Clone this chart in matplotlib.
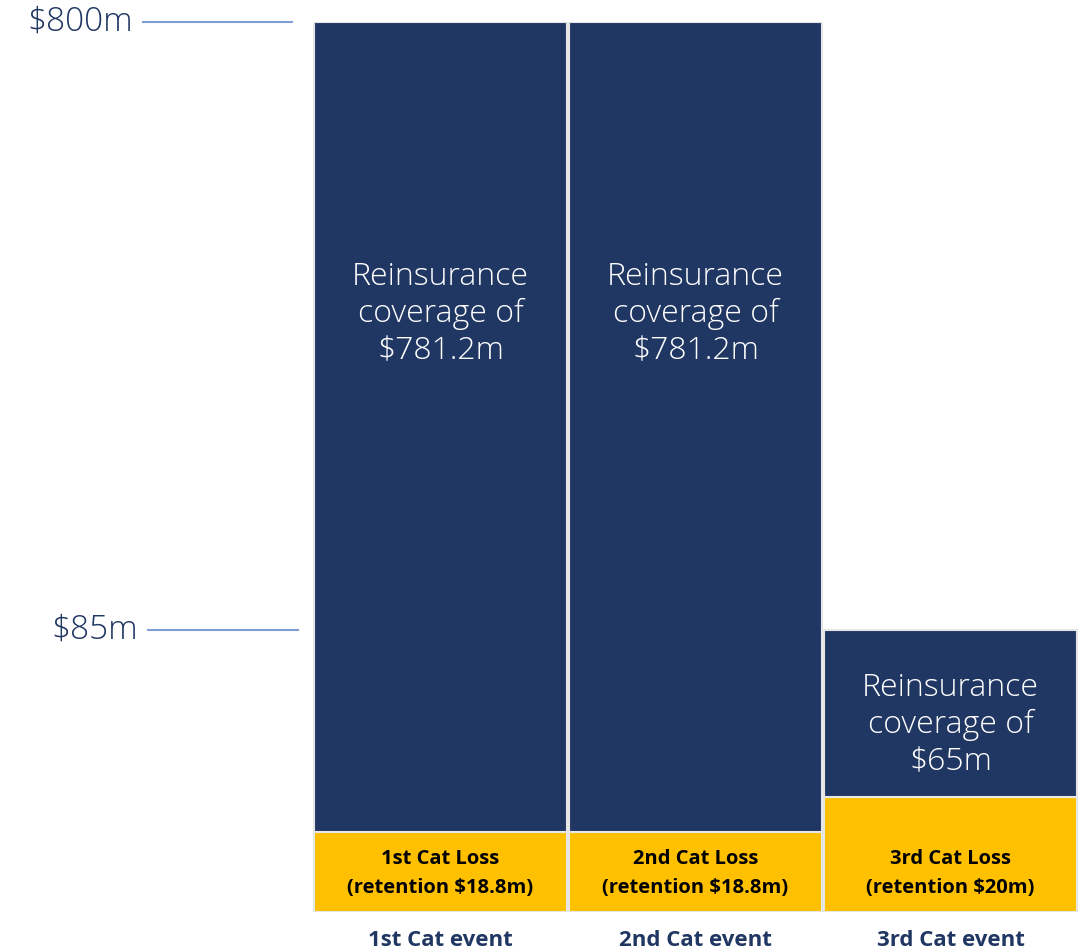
import numpy as np
import matplotlib.pyplot as plt
import matplotlib.transforms as mtransforms

events = ["1st Cat event", "2nd Cat event", "3rd Cat event"]
retention = [18.8, 18.8, 20]
coverage = [781.2, 781.2, 65]
loss_labels = ["1st Cat Loss\n(retention $18.8m)", "2nd Cat Loss\n(retention $18.8m)", "3rd Cat Loss\n(retention $20m)"]
cover_labels = ["Reinsurance\ncoverage of\n$781.2m", "Reinsurance\ncoverage of\n$781.2m", "Reinsurance\ncoverage of\n$65m"]
tick_vals = [85, 800]
tick_text = ["$85m", "$800m"]

# schematic (not to scale) axis: value -> drawn height
knot_vals = [0, 18.8, 20, 85, 800]
knot_pix = [0, 80, 115, 282, 890]

def fwd(v):
    return np.interp(v, knot_vals, knot_pix)

def inv(p):
    return np.interp(p, knot_pix, knot_vals)

NAVY = "#213763"
GOLD = "#FFC000"
plt.rcParams['font.family'] = ['Open Sans', 'DejaVu Sans']

W, H = 1084, 951
fig = plt.figure(figsize=(W / 100, H / 100), dpi=100)
ax = fig.add_axes([313 / W, (H - 912) / H, (1078 - 313) / W, 890 / H])
ax.set_yscale('function', functions=(fwd, inv))
ax.set_ylim(0, 800)
ax.set_xlim(-0.5, 2.5)

x = np.arange(len(events))
ax.bar(x, retention, width=0.99, color=GOLD, edgecolor="#E6E6E6", linewidth=1.5)
ax.bar(x, coverage, bottom=retention, width=0.99, color=NAVY, edgecolor="#E6E6E6", linewidth=1.5)

for i in x:
    r, c = retention[i], coverage[i]
    ax.text(i, inv(912 - 873 - i // 2), loss_labels[i], ha='center', va='center',
            fontsize=14.5, fontweight='bold', color='black', linespacing=1.6)
    if c > 100:
        ymid = inv(912 - 314)
    else:
        ymid = inv(912 - 725)
    ax.text(i, ymid, cover_labels[i], ha='center', va='center',
            fontsize=23, fontweight='light', color='white', linespacing=1.2)
    ax.text(i, -34 / 890, events[i], ha='center', va='baseline', transform=ax.get_xaxis_transform(),
            fontsize=16, fontweight='bold', color=NAVY)

# left value markers
trans = mtransforms.blended_transform_factory(fig.transFigure, ax.transData)
line_x = {85: (148, 298), 800: (143, 292)}
for v, t in zip(tick_vals, tick_text):
    x0, x1 = line_x[v]
    ax.plot([x0 / W, x1 / W], [v, v], transform=trans, color="#7F9ED8", lw=1.5, clip_on=False)
    ax.text((x0 - 10) / W, v, t, transform=trans, ha='right', va='center',
            fontsize=24, fontweight='light', color=NAVY)

ax.axis('off')
fig.savefig("out.png", dpi=100)
